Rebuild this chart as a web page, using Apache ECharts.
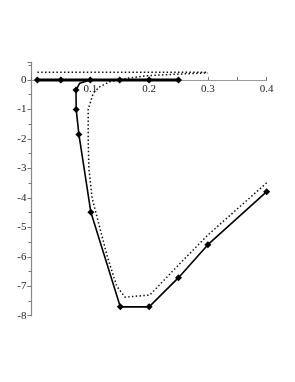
<!DOCTYPE html>
<html><head><meta charset="utf-8">
<script src="https://cdn.jsdelivr.net/npm/echarts@6/dist/echarts.min.js"></script>
<style>html,body{margin:0;padding:0;background:#fff}#c{width:295px;height:382px}</style>
</head><body><div id="c"></div>
<script>
// Solid curve, upper branch (y = 0)
const topX = [0.01, 0.05, 0.1, 0.15, 0.2, 0.25];
const topY = [0, 0, 0, 0, 0, 0];
// Solid curve, lower branch
const lowX = [0.1, 0.082, 0.0757, 0.076, 0.0806, 0.101, 0.151, 0.2, 0.25, 0.3, 0.4];
const lowY = [0, -0.11, -0.34, -1.0, -1.85, -4.49, -7.7, -7.7, -6.71, -5.59, -3.79];
const lowMarked = [false, false, true, true, true, true, true, true, true, true, true];
// Dotted reference curves
const dotTopX = [0.01, 0.3];
const dotTopY = [0.26, 0.26];
const dotX = [0.4, 0.3, 0.25, 0.201, 0.159, 0.145, 0.129, 0.116, 0.103, 0.0976, 0.0964, 0.0964, 0.105, 0.116, 0.133, 0.162, 0.2, 0.25, 0.3];
const dotY = [-3.49, -5.26, -6.28, -7.3, -7.37, -7.0, -6.0, -5.0, -4.0, -3.0, -2.0, -1.0, -0.45, -0.23, -0.06, 0.06, 0.15, 0.2, 0.24];
const xTicks = [0.1, 0.2, 0.3, 0.4];

const zip = (a, b) => a.map((v, i) => [v, b[i]]);
const chart = echarts.init(document.getElementById('c'), null, {renderer: 'canvas'});
const font = 'Liberation Serif';
const dotStyle = {color: '#111', width: 1.5, type: [1.5, 2.3], cap: 'butt'};
chart.setOption({
  animation: false,
  grid: [
    {left: 31.5, right: 28.3, top: 62.3, bottom: 66.3},
    {left: 31.5, right: 28.3, top: 0, height: 80}
  ],
  xAxis: [{
    type: 'value', min: 0, max: 0.4, interval: 0.1, gridIndex: 0,
    axisLine: {onZero: true, lineStyle: {color: '#999', width: 1}},
    axisTick: {show: true, length: 3, inside: true, lineStyle: {color: '#777'}},
    minorTick: {show: true, splitNumber: 2, length: 3, lineStyle: {color: '#777'}},
    splitLine: {show: false},
    axisLabel: {show: false}
  }, {
    type: 'value', min: 0, max: 0.4, interval: 0.1, gridIndex: 1, position: 'bottom',
    axisLine: {show: false, onZero: false}, axisTick: {show: false}, splitLine: {show: false},
    axisLabel: {fontFamily: font, fontSize: 11, color: '#222', margin: 4,
      formatter: v => xTicks.some(t => Math.abs(t - v) < 1e-9) ? String(Math.round(v * 10) / 10) : ''}
  }],
  yAxis: [{
    type: 'value', min: -8, max: 0.6, interval: 1, gridIndex: 0,
    axisLine: {show: true, onZero: false, lineStyle: {color: '#888', width: 1.2}},
    axisTick: {show: true, length: 4, lineStyle: {color: '#777'}},
    minorTick: {show: true, splitNumber: 2, length: 3, lineStyle: {color: '#777'}},
    splitLine: {show: false},
    axisLabel: {fontFamily: font, fontSize: 11, color: '#222', margin: 5,
      formatter: v => Number.isInteger(Math.round(v * 1000) / 1000) ? String(Math.round(v)) : ''}
  }, {
    type: 'value', min: 0, max: 1, gridIndex: 1, show: false
  }],
  series: [
    {type: 'line', data: zip(dotTopX, dotTopY), symbol: 'none', z: 1, lineStyle: dotStyle},
    {type: 'line', data: zip(dotX, dotY), symbol: 'none', z: 1, lineStyle: dotStyle},
    {type: 'line', data: zip(lowX, lowY).map((p, i) => lowMarked[i] ? p : {value: p, symbol: 'none'}),
      symbol: 'diamond', symbolSize: 7, showAllSymbol: true, z: 3,
      itemStyle: {color: '#000'}, lineStyle: {color: '#000', width: 1.6}},
    {type: 'line', data: zip(topX, topY), symbol: 'diamond', symbolSize: 7, showAllSymbol: true, z: 4,
      itemStyle: {color: '#000'}, lineStyle: {color: '#000', width: 3}}
  ]
});
</script></body></html>
